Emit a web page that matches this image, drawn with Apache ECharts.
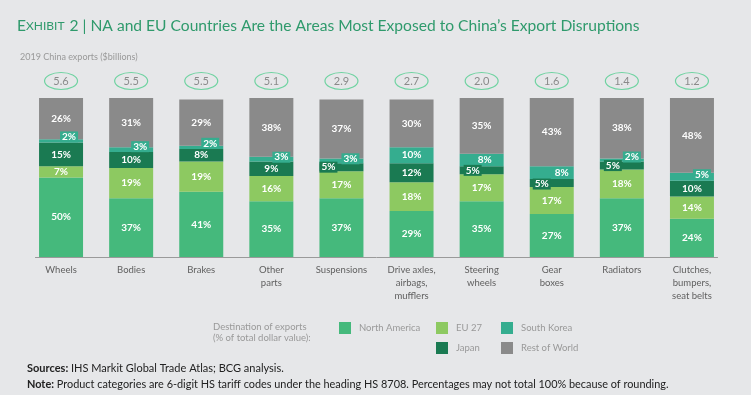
<!DOCTYPE html>
<html><head><meta charset="utf-8">
<script src="https://cdn.jsdelivr.net/npm/echarts@6/dist/echarts.min.js"></script>
<style>html,body{margin:0;padding:0;background:#e6e7e9;}#c{width:751px;height:395px;}</style>
</head><body><div id="c"></div>
<script>
const categories = ['Wheels','Bodies','Brakes','Other\nparts','Suspensions','Drive axles,\nairbags,\nmufflers','Steering\nwheels','Gear\nboxes','Radiators','Clutches,\nbumpers,\nseat belts'];
const exportsBn = [5.6,5.5,5.5,5.1,2.9,2.7,2.0,1.6,1.4,1.2];
const northAmerica = [50,37,41,35,37,29,35,27,37,24];
const eu27 = [7,19,19,16,17,18,17,17,18,14];
const japan = [15,10,8,9,5,12,5,5,5,10];
const southKorea = [2,3,2,3,3,10,8,8,2,5];
const restOfWorld = [26,31,29,38,37,30,35,43,38,48];

const C = {na:'#45b97c', eu:'#8dc961', sk:'#35ad8f', jp:'#1a7a52', rw:'#8a8a8a'};
const FONT = 'Lato';

// label tweaks for thin segments (index -> [dx, dy])
const skTabs = {0:[8,-4],1:[9,-3],2:[9,-4],3:[10,-2],4:[9,-2],6:[3,0],7:[10,0],8:[10,-3],9:[10,-2]};
const skBoxed = {0:1,1:1,2:1,3:1,4:1,7:1,8:1,9:1};
const jpTabs = {4:[-13,0],6:[-9,0],7:[-10,1],8:[-9,0]};

function mk(name, vals, color, tabs, boxed) {
  return {
    name, type:'bar', stack:'s', barWidth:44, itemStyle:{color},
    label:{show:true, position:'inside', color:'#fff', fontFamily:FONT, fontSize:10, fontWeight:'bold', formatter:'{c}%'},
    data: vals.map((v,i)=>{
      const o = {value:v};
      if (tabs && tabs[i]) {
        o.label = {offset:tabs[i]};
        if (!boxed || boxed[i]) { o.label.backgroundColor = color; o.label.padding = [1,2,0,2]; }
      }
      return o;
    })
  };
}

const chart = echarts.init(document.getElementById('c'));
const legendItems = [
  {name:'North America', left:334, top:317},
  {name:'EU 27', left:431, top:317},
  {name:'South Korea', left:496, top:317},
  {name:'Japan', left:431, top:337},
  {name:'Rest of World', left:496, top:337}
];
const option = {
  backgroundColor:'#e6e7e9',
  animation:false,
  title:[
    {text:'{a|E}{b|XHIBIT} {a|2 | NA and EU Countries Are the Areas Most Exposed to China\u2019s Export Disruptions}', left:12, top:12,
     textStyle:{fontWeight:'normal', rich:{a:{fontFamily:FONT, fontSize:15.6, fontWeight:'normal', color:'#2f9a6c'}, b:{fontFamily:FONT, fontSize:12, fontWeight:'normal', color:'#2f9a6c'}}}},
    {text:'2019 China exports ($billions)', left:15, top:48, textStyle:{fontFamily:FONT, fontSize:9, fontWeight:'normal', color:'#999'}},
    {text:'Destination of exports\n(% of total dollar value):', left:208, top:316, textStyle:{fontFamily:FONT, fontSize:9.5, fontWeight:'normal', color:'#999', lineHeight:11}},
    {text:'{b|Sources:} IHS Markit Global Trade Atlas; BCG analysis.', left:22, top:358,
     textStyle:{fontFamily:FONT, fontSize:11, fontWeight:'normal', color:'#222', rich:{b:{fontFamily:FONT, fontSize:11, fontWeight:'bold', color:'#222'}}}},
    {text:'{b|Note:} Product categories are 6-digit HS tariff codes under the heading HS 8708. Percentages may not total 100% because of rounding.', left:22, top:374,
     textStyle:{fontFamily:FONT, fontSize:10.9, fontWeight:'normal', color:'#222', rich:{b:{fontFamily:FONT, fontSize:10.9, fontWeight:'bold', color:'#222'}}}}
  ],
  legend: legendItems.map(l=>({data:[l.name], left:l.left, top:l.top, itemWidth:12, itemHeight:12, icon:'rect',
    textStyle:{fontFamily:FONT, fontSize:9.5, color:'#999', padding:[0,0,0,3]}, selectedMode:false})),
  grid:{left:26, right:24, top:98, bottom:138},
  xAxis:{type:'category', data:categories, axisLine:{show:false}, axisTick:{show:false},
    axisLabel:{color:'#5f5f5f', fontFamily:FONT, fontSize:9.5, lineHeight:13, margin:6, interval:0}},
  yAxis:{type:'value', min:0, max:100, show:false},
  series:[
    mk('North America', northAmerica, C.na),
    mk('EU 27', eu27, C.eu),
    mk('Japan', japan, C.jp, jpTabs),
    mk('South Korea', southKorea, C.sk, skTabs, skBoxed),
    mk('Rest of World', restOfWorld, C.rw),
    {type:'custom', name:'exports', data: exportsBn.map((v,i)=>[i,v]), encode:{x:0, y:1}, z:5,
     renderItem:function(params, api){
       const p = api.coord([api.value(0), 100]);
       const cx = p[0], cy = p[1]-17;
       return {type:'group', children:[
         {type:'path', shape:{pathData:'M0,8.5 A16.5,8.5 0 1,0 33,8.5 A16.5,8.5 0 1,0 0,8.5 Z', x:cx-16.5, y:cy-8.5, width:33, height:17},
          style:{fill:'none', stroke:'#6fd3a1', lineWidth:1.2}},
         {type:'text', style:{text:api.value(1).toFixed(1), x:cx, y:cy, textAlign:'center', textVerticalAlign:'middle',
          fill:'#8a8a8a', font:'11px ' + FONT}}
       ]};
     }}
  ]
};
chart.setOption(option);
const p0 = chart.convertToPixel({xAxisIndex:0, yAxisIndex:0}, [0,0]);
const p1 = chart.convertToPixel({xAxisIndex:0, yAxisIndex:0}, [categories.length-1,0]);
chart.setOption({graphic:[{type:'line', z:10, shape:{x1:p0[0]-26, y1:p0[1]+0.5, x2:p1[0]+26, y2:p1[1]+0.5}, style:{stroke:'#9a9a9a', lineWidth:1}}]});
</script></body></html>
